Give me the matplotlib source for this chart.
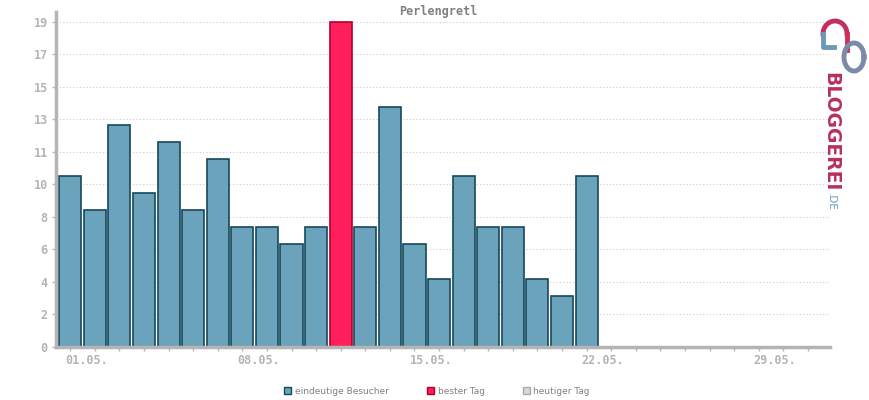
import numpy as np
import matplotlib.pyplot as plt
from matplotlib.patches import Patch

# Daten
days = list(range(1, 23))
visitors = [10, 8, 13, 9, 12, 8, 11, 7, 7, 6, 7, 19, 7, 14, 6, 4, 10, 7, 7, 4, 3, 10]
best_day = 12
ytick_vals = [i * 1.9 for i in range(11)]
ytick_labels = ['0', '2', '4', '6', '8', '10', '11', '13', '15', '17', '19']
xtick_days = [1, 8, 15, 22, 29]
xtick_labels = ['01.05.', '08.05.', '15.05.', '22.05.', '29.05.']

blue = '#6aa3bb'
blue_edge = '#17485a'
red = '#ff1f5a'
red_edge = '#b0002e'
gray = '#b4b4b4'

fig = plt.figure(figsize=(8.7, 4), dpi=100)
ax = fig.add_axes([56/870, 1-347/400, (830-56)/870, (347-12)/400])

colors = [red if d == best_day else blue for d in days]
edges = [red_edge if d == best_day else blue_edge for d in days]
ax.bar(days, visitors, width=0.9, color=colors, edgecolor=edges, linewidth=1.2, zorder=2)

ax.set_xlim(0.42, 31.9)
ax.set_ylim(0, 19.58)

ax.set_yticks(ytick_vals)
ax.set_yticklabels(ytick_labels)
# Beschriftung leicht links vom Tages-Tick beginnen lassen
ax.set_xticks([d - 0.2 for d in xtick_days])
ax.set_xticklabels(xtick_labels)
ax.set_xticks(range(1, 32), minor=True)

mono = {'family': 'DejaVu Sans Mono', 'weight': 'bold', 'size': 8.5}
for lab in ax.get_xticklabels():
    lab.set_fontproperties(mono)
    lab.set_color(gray)
    lab.set_ha('left')
for lab in ax.get_yticklabels():
    lab.set_fontproperties(mono)
    lab.set_color(gray)

ax.tick_params(axis='x', which='major', length=0, pad=5)
ax.tick_params(axis='x', which='minor', length=3, width=1, color=gray)
ax.tick_params(axis='y', length=3, width=1, color=gray, pad=3)

ax.grid(axis='y', linestyle=(0, (1, 2)), color='#cccccc', linewidth=0.8, zorder=0)
for s in ['top', 'right']:
    ax.spines[s].set_visible(False)
for s in ['left', 'bottom']:
    ax.spines[s].set_color(gray)
    ax.spines[s].set_linewidth(2.5)
    ax.spines[s].set_zorder(3)

fig.text(438/870, 1-12/400, 'Perlengretl', ha='center', va='center',
         fontfamily='DejaVu Sans Mono', fontweight='bold', fontsize=8.5, color='#808080')

# Legende
handles = [Patch(facecolor=blue, edgecolor=blue_edge, label='eindeutige Besucher'),
           Patch(facecolor=red, edgecolor=red_edge, label='bester Tag'),
           Patch(facecolor='#d8d8d8', edgecolor='#aaaaaa', label='heutiger Tag')]
leg = fig.legend(handles=handles, loc='center', bbox_to_anchor=(437/870, 1-391/400), ncol=3,
                 frameon=False, fontsize=6.5, handlelength=0.8, handleheight=0.8,
                 handletextpad=0.4, columnspacing=4.2)
for t in leg.get_texts():
    t.set_color('#808080')

# Logo
fig.text(831/870, 1-72/400, 'BLOGGEREI', rotation=-90, ha='center', va='top',
         fontsize=13.5, fontweight='bold', color='#b8305c', fontfamily='DejaVu Sans')
fig.text(831/870, 1-193/400, '.DE', rotation=-90, ha='center', va='top',
         fontsize=7.5, color='#6a9ab8', fontfamily='DejaVu Sans')
lax = fig.add_axes([818/870, 1-74/400, 50/870, 56/400])
lax.set_xlim(0, 50)
lax.set_ylim(0, 56)
lax.axis('off')
t = np.linspace(0, np.pi, 50)
lax.plot(17 + 12*np.cos(t), 40 + 13*np.sin(t), color='#c03060', linewidth=3.5)
lax.plot([5, 5, 16], [40, 27, 27], color='#6a9ab8', linewidth=3.5)
lax.plot([29, 29], [40, 24], color='#d03058', linewidth=3.5)
t2 = np.linspace(0, 2*np.pi, 80)
lax.plot(36 + 10*np.cos(t2), 17 + 14*np.sin(t2), color='#7a8aa8', linewidth=3.5)

fig.savefig('out.png', dpi=100)
